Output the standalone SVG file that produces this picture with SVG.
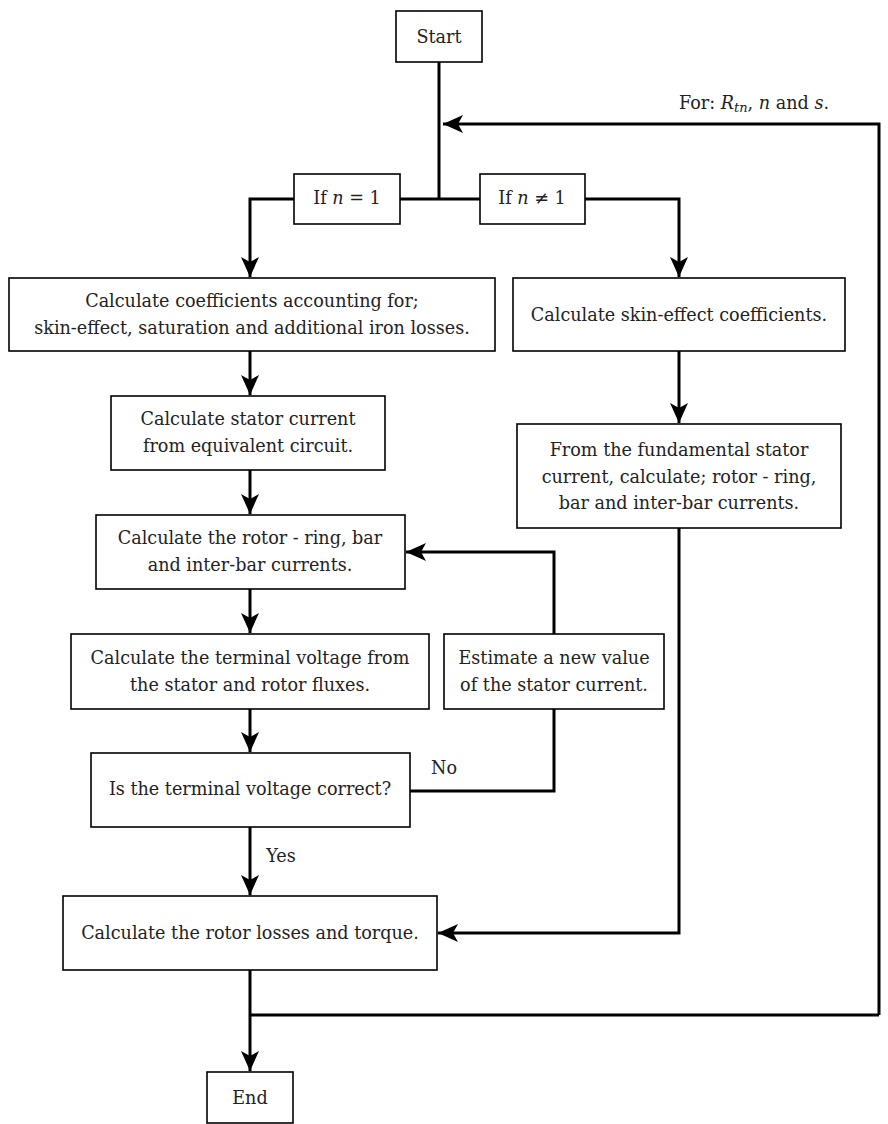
<svg xmlns="http://www.w3.org/2000/svg" width="888" height="1124" viewBox="0 0 888 1124">
<defs>
<style>
.box{fill:#fff;stroke:#000;stroke-width:1.6}
.t{font-family:"DejaVu Serif","Liberation Serif",serif;font-size:17.6px;fill:#222;text-anchor:middle;dominant-baseline:central}
.c{fill:none;stroke:#000;stroke-width:3}
.m{font-style:italic}
</style>
<marker id="ah" viewBox="-22 -10 24 20" refX="0" refY="0" markerWidth="24" markerHeight="20" markerUnits="userSpaceOnUse" orient="auto">
<path d="M0,0 L-20,-9 L-15,0 L-20,9 Z" fill="#000"/>
</marker>
</defs>
<rect width="888" height="1124" fill="#fff"/>
<g id="connectors">
<path class="c" d="M439,62 V199"/>
<path class="c" d="M400,199 H480"/>
<path class="c" d="M294,199 H250 V277" marker-end="url(#ah)"/>
<path class="c" d="M585,199 H679 V277" marker-end="url(#ah)"/>
<path class="c" d="M879,1015 V124 H443" marker-end="url(#ah)"/>
<path class="c" d="M250,351 V395" marker-end="url(#ah)"/>
<path class="c" d="M250,470 V514" marker-end="url(#ah)"/>
<path class="c" d="M250,589 V633" marker-end="url(#ah)"/>
<path class="c" d="M250,709 V752" marker-end="url(#ah)"/>
<path class="c" d="M250,827 V895" marker-end="url(#ah)"/>
<path class="c" d="M410,791 H554 V709"/>
<path class="c" d="M554,634 V552 H406" marker-end="url(#ah)"/>
<path class="c" d="M679,351 V423" marker-end="url(#ah)"/>
<path class="c" d="M679,528 V933 H438" marker-end="url(#ah)"/>
<path class="c" d="M250,970 V1071" marker-end="url(#ah)"/>
<path class="c" d="M250,1015 H879"/>
</g>
<g id="labels">
<text class="t" x="754" y="103">For: <tspan class="m">R</tspan><tspan class="m" font-size="13" dy="4">tn</tspan><tspan dy="-4">, </tspan><tspan class="m">n</tspan> and <tspan class="m">s</tspan>.</text>
<text class="t" x="444" y="768">No</text>
<text class="t" x="281" y="856">Yes</text>
</g>
<g id="start"><rect class="box" x="396" y="11" width="86" height="51"/><text class="t" x="439" y="37">Start</text></g>
<g id="if1"><rect class="box" x="294" y="174" width="106" height="50"/><text class="t" x="347" y="198">If <tspan class="m">n</tspan> = 1</text></g>
<g id="ifn1"><rect class="box" x="480" y="174" width="105" height="50"/><text class="t" x="532" y="198">If <tspan class="m">n</tspan> ≠ 1</text></g>
<g id="coef"><rect class="box" x="9" y="278" width="486" height="73"/><text class="t" x="252" y="301">Calculate coefficients accounting for;</text><text class="t" x="252" y="328">skin-effect, saturation and additional iron losses.</text></g>
<g id="skin"><rect class="box" x="513" y="278" width="332" height="73"/><text class="t" x="679" y="315">Calculate skin-effect coefficients.</text></g>
<g id="stator"><rect class="box" x="111" y="396" width="274" height="74"/><text class="t" x="248" y="419">Calculate stator current</text><text class="t" x="248" y="446">from equivalent circuit.</text></g>
<g id="fund"><rect class="box" x="517" y="424" width="324" height="104"/><text class="t" x="679" y="450">From the fundamental stator</text><text class="t" x="679" y="477">current, calculate; rotor - ring,</text><text class="t" x="679" y="503">bar and inter-bar currents.</text></g>
<g id="rotor"><rect class="box" x="96" y="515" width="309" height="74"/><text class="t" x="250" y="538">Calculate the rotor - ring, bar</text><text class="t" x="250" y="565">and inter-bar currents.</text></g>
<g id="terminal"><rect class="box" x="71" y="634" width="358" height="75"/><text class="t" x="250" y="658">Calculate the terminal voltage from</text><text class="t" x="250" y="685">the stator and rotor fluxes.</text></g>
<g id="estimate"><rect class="box" x="444" y="634" width="220" height="75"/><text class="t" x="554" y="658">Estimate a new value</text><text class="t" x="554" y="685">of the stator current.</text></g>
<g id="check"><rect class="box" x="91" y="753" width="319" height="74"/><text class="t" x="250" y="789">Is the terminal voltage correct?</text></g>
<g id="losses"><rect class="box" x="63" y="896" width="374" height="74"/><text class="t" x="250" y="933">Calculate the rotor losses and torque.</text></g>
<g id="end"><rect class="box" x="207" y="1072" width="86" height="51"/><text class="t" x="250" y="1098">End</text></g>
</svg>
